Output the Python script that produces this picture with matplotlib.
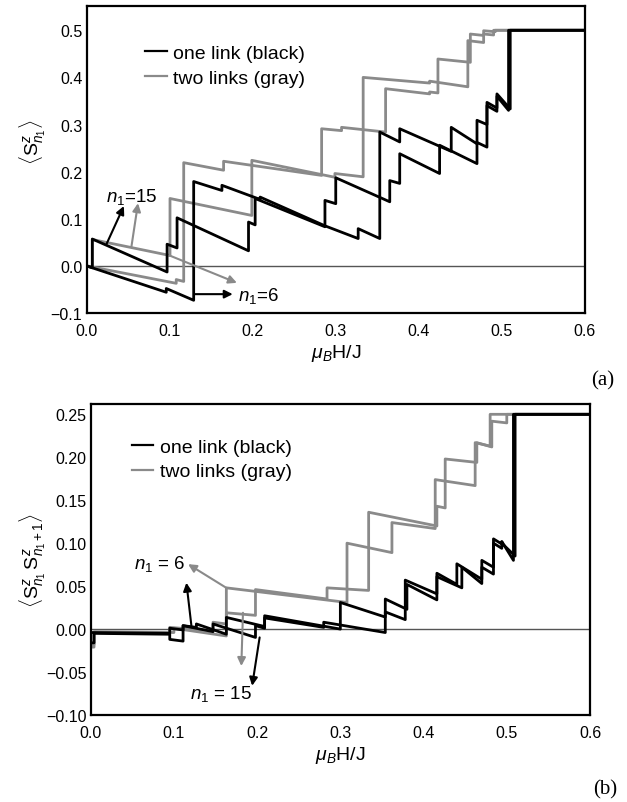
import matplotlib
matplotlib.use("Agg")
import matplotlib.pyplot as plt
from matplotlib.lines import Line2D

plt.rcParams['font.family'] = ['Liberation Sans', 'DejaVu Sans']
plt.rcParams['mathtext.fontset'] = 'custom'
plt.rcParams['mathtext.rm'] = 'Liberation Sans'
plt.rcParams['mathtext.it'] = 'Liberation Sans:italic'
plt.rcParams['mathtext.bf'] = 'Liberation Sans:bold'

# ---------------- data: panel (a) ----------------
a_one6_x = [0.000, 0.096, 0.096, 0.129, 0.129, 0.163, 0.163, 0.209, 0.209, 0.287, 0.327, 0.327,
            0.353, 0.353, 0.377, 0.377, 0.439, 0.439, 0.470, 0.470, 0.482, 0.482, 0.494, 0.494,
            0.508, 0.508, 0.600]
a_one6_y = [0.000, -0.056, -0.048, -0.073, 0.179, 0.160, 0.171, 0.141, 0.146, 0.085, 0.058, 0.079,
            0.058, 0.284, 0.263, 0.291, 0.243, 0.294, 0.259, 0.309, 0.300, 0.340, 0.328, 0.360,
            0.330, 0.500, 0.500]

a_one15_x = [0.000, 0.007, 0.007, 0.097, 0.097, 0.109, 0.109, 0.195, 0.195, 0.203, 0.203, 0.287,
             0.287, 0.300, 0.300, 0.365, 0.365, 0.377, 0.377, 0.425, 0.425, 0.470, 0.470, 0.482,
             0.482, 0.494, 0.494, 0.510, 0.510, 0.600]
a_one15_y = [0.000, -0.004, 0.057, -0.013, 0.046, 0.038, 0.102, 0.032, 0.093, 0.087, 0.143, 0.083,
             0.139, 0.132, 0.187, 0.136, 0.181, 0.175, 0.238, 0.196, 0.256, 0.217, 0.262, 0.252,
             0.347, 0.335, 0.365, 0.333, 0.500, 0.500]

a_two15_x = [0.000, 0.007, 0.007, 0.1005, 0.1005, 0.199, 0.199, 0.299, 0.299, 0.333, 0.333, 0.413,
             0.413, 0.459, 0.459, 0.478, 0.478, 0.490, 0.490, 0.600]
a_two15_y = [0.000, -0.002, 0.056, 0.022, 0.143, 0.107, 0.224, 0.188, 0.196, 0.189, 0.400, 0.388,
             0.392, 0.380, 0.478, 0.474, 0.492, 0.490, 0.500, 0.500]

a_two6_x = [0.000, 0.108, 0.108, 0.117, 0.117, 0.165, 0.165, 0.283, 0.283, 0.307, 0.307, 0.360,
            0.360, 0.413, 0.413, 0.423, 0.423, 0.462, 0.462, 0.478, 0.478, 0.492, 0.492, 0.600]
a_two6_y = [0.000, -0.037, -0.029, -0.033, 0.219, 0.203, 0.222, 0.192, 0.291, 0.287, 0.294, 0.284,
            0.376, 0.365, 0.369, 0.367, 0.439, 0.432, 0.492, 0.489, 0.499, 0.497, 0.500, 0.500]

# ---------------- data: panel (b) ----------------
b_one6_x = [0.000, 0.095, 0.095, 0.111, 0.111, 0.127, 0.127, 0.163, 0.163, 0.209, 0.209, 0.300,
            0.300, 0.354, 0.354, 0.378, 0.378, 0.416, 0.416, 0.440, 0.440, 0.470, 0.470, 0.484,
            0.484, 0.494, 0.494, 0.508, 0.508, 0.600]
b_one6_y = [-0.004, -0.005, 0.001, -0.001, 0.004, 0.002, 0.006, -0.006, 0.0136, 0.003, 0.0155, 0.000,
            0.031, 0.014, 0.020, 0.011, 0.057, 0.041, 0.065, 0.052, 0.076, 0.058, 0.072, 0.064,
            0.105, 0.099, 0.102, 0.080, 0.250, 0.250]

b_one15_x = [0.000, 0.004, 0.004, 0.095, 0.095, 0.111, 0.111, 0.147, 0.147, 0.198, 0.198, 0.209,
             0.209, 0.280, 0.280, 0.354, 0.354, 0.380, 0.380, 0.416, 0.416, 0.446, 0.446, 0.470,
             0.470, 0.484, 0.484, 0.494, 0.494, 0.510, 0.510, 0.600]
b_one15_y = [-0.016, -0.016, -0.005, -0.006, -0.012, -0.014, 0.004, -0.003, 0.006, -0.0097, 0.004, 0.001,
             0.013, 0.002, 0.008, -0.004, 0.035, 0.023, 0.052, 0.034, 0.061, 0.048, 0.072, 0.053,
             0.080, 0.072, 0.100, 0.094, 0.100, 0.085, 0.250, 0.250]

b_two6_x = [0.000, 0.004, 0.004, 0.100, 0.100, 0.163, 0.163, 0.308, 0.308, 0.362, 0.362, 0.414,
            0.414, 0.462, 0.462, 0.480, 0.480, 0.600]
b_two6_y = [-0.021, -0.021, -0.003, -0.004, 0.001, -0.008, 0.048, 0.031, 0.100, 0.089, 0.124, 0.117,
            0.174, 0.167, 0.217, 0.213, 0.250, 0.250]

b_two15_x = [0.000, 0.004, 0.004, 0.095, 0.095, 0.147, 0.147, 0.163, 0.163, 0.198, 0.198, 0.284,
             0.284, 0.334, 0.334, 0.416, 0.416, 0.426, 0.426, 0.464, 0.464, 0.482, 0.482, 0.500,
             0.500, 0.600]
b_two15_y = [-0.018, -0.018, -0.004, -0.005, 0.002, -0.002, 0.008, 0.006, 0.019, 0.016, 0.046, 0.035,
             0.048, 0.045, 0.136, 0.120, 0.143, 0.141, 0.198, 0.194, 0.217, 0.212, 0.242, 0.240,
             0.250, 0.250]

x_ticks = [0.0, 0.1, 0.2, 0.3, 0.4, 0.5, 0.6]
a_yticks = [-0.1, 0.0, 0.1, 0.2, 0.3, 0.4, 0.5]
b_yticks = [-0.10, -0.05, 0.00, 0.05, 0.10, 0.15, 0.20, 0.25]

BLACK = '#000000'
GRAY = '#8a8a8a'
LW = 2.0

fig = plt.figure(figsize=(6.27, 8.03), dpi=100)
ax1 = fig.add_axes([86.5 / 627, 1 - 314 / 803, 498.5 / 627, 307 / 803])
ax2 = fig.add_axes([90.7 / 627, 1 - 716 / 803, 499.3 / 627, 311 / 803])


def style(ax, yticks, fmt):
    for s in ax.spines.values():
        s.set_linewidth(1.6)
        s.set_color('black')
    ax.set_xlim(0, 0.6)
    ax.set_xticks(x_ticks)
    ax.set_xticklabels([f"{t:.1f}" for t in x_ticks])
    ax.set_yticks(yticks)
    ax.set_yticklabels([fmt.format(t).replace('-', '\u2212') for t in yticks])
    ax.tick_params(length=0, labelsize=11.5)
    ax.tick_params(axis='x', pad=7)
    ax.tick_params(axis='y', pad=3)
    ax.axhline(0, color='#555555', lw=1.0, zorder=1)
    ax.set_xlabel(r'$\mu_B$H/J', fontsize=14, labelpad=3)


# panel (a)
ax1.plot(a_two15_x, a_two15_y, color=GRAY, lw=LW, zorder=2)
ax1.plot(a_two6_x, a_two6_y, color=GRAY, lw=LW, zorder=2)
ax1.plot(a_one15_x, a_one15_y, color=BLACK, lw=LW, zorder=3)
ax1.plot(a_one6_x, a_one6_y, color=BLACK, lw=LW, zorder=3)
ax1.set_ylim(-0.1, 0.5515)
style(ax1, a_yticks, "{:.1f}")
ax1.set_ylabel(r'$\langle \mathrm{S}^{z}_{n_1}\rangle$', fontsize=14)
ax1.yaxis.set_label_coords(-0.078, 0.56)

handles = [Line2D([], [], color=BLACK, lw=1.6), Line2D([], [], color=GRAY, lw=1.6)]
ax1.legend(handles, ['one link (black)', 'two links (gray)'], loc='upper left',
           bbox_to_anchor=(0.117, 0.874), frameon=False, fontsize=14, handlelength=1.12,
           handletextpad=0.34, labelspacing=0.37, borderpad=0, borderaxespad=0)

ap_k = dict(arrowstyle='-|>', color=BLACK, lw=1.5, mutation_scale=12, shrinkA=0, shrinkB=0)
ap_g = dict(arrowstyle='-|>', color=GRAY, lw=1.5, mutation_scale=12, shrinkA=0, shrinkB=0)
ax1.annotate('', xy=(0.045, 0.127), xytext=(0.024, 0.046), arrowprops=ap_k)
ax1.annotate('', xy=(0.062, 0.133), xytext=(0.054, 0.040), arrowprops=ap_g)
ax1.text(0.024, 0.148, r'$n_1$=15', fontsize=13.5, va='center', ha='left')
ax1.annotate('', xy=(0.176, -0.060), xytext=(0.130, -0.060), arrowprops=ap_k)
ax1.annotate('', xy=(0.181, -0.036), xytext=(0.100, 0.022), arrowprops=ap_g)
ax1.text(0.182, -0.061, r'$n_1$=6', fontsize=13.5, va='center', ha='left')

# panel (b)
ax2.plot(b_two15_x, b_two15_y, color=GRAY, lw=LW, zorder=2)
ax2.plot(b_two6_x, b_two6_y, color=GRAY, lw=LW, zorder=2)
ax2.plot(b_one15_x, b_one15_y, color=BLACK, lw=LW, zorder=3)
ax2.plot(b_one6_x, b_one6_y, color=BLACK, lw=LW, zorder=3)
ax2.set_ylim(-0.1, 0.262)
style(ax2, b_yticks, "{:.2f}")
ax2.set_ylabel(r'$\langle \mathrm{S}^{z}_{n_1}\,\mathrm{S}^{z}_{n_1+1}\rangle$', fontsize=14)
ax2.yaxis.set_label_coords(-0.085, 0.5)

ax2.legend(handles, ['one link (black)', 'two links (gray)'], loc='upper left',
           bbox_to_anchor=(0.082, 0.891), frameon=False, fontsize=14, handlelength=1.12,
           handletextpad=0.34, labelspacing=0.37, borderpad=0, borderaxespad=0)
ax2.annotate('', xy=(0.117, 0.0756), xytext=(0.163, 0.048), arrowprops=ap_g)
ax2.annotate('', xy=(0.115, 0.054), xytext=(0.121, 0.004), arrowprops=ap_k)
ax2.text(0.113, 0.077, r'$n_1$ = 6', fontsize=13.5, va='center', ha='right')
ax2.annotate('', xy=(0.181, -0.043), xytext=(0.183, 0.019), arrowprops=ap_g)
ax2.annotate('', xy=(0.194, -0.066), xytext=(0.203, -0.0097), arrowprops=ap_k)
ax2.text(0.194, -0.074, r'$n_1$ = 15', fontsize=13.5, va='center', ha='right')

fig.text(0.962, 0.526, '(a)', fontsize=15, family='Liberation Serif', ha='center', va='center')
fig.text(0.965, 0.016, '(b)', fontsize=15, family='Liberation Serif', ha='center', va='center')

fig.savefig('out.png', dpi=100)
